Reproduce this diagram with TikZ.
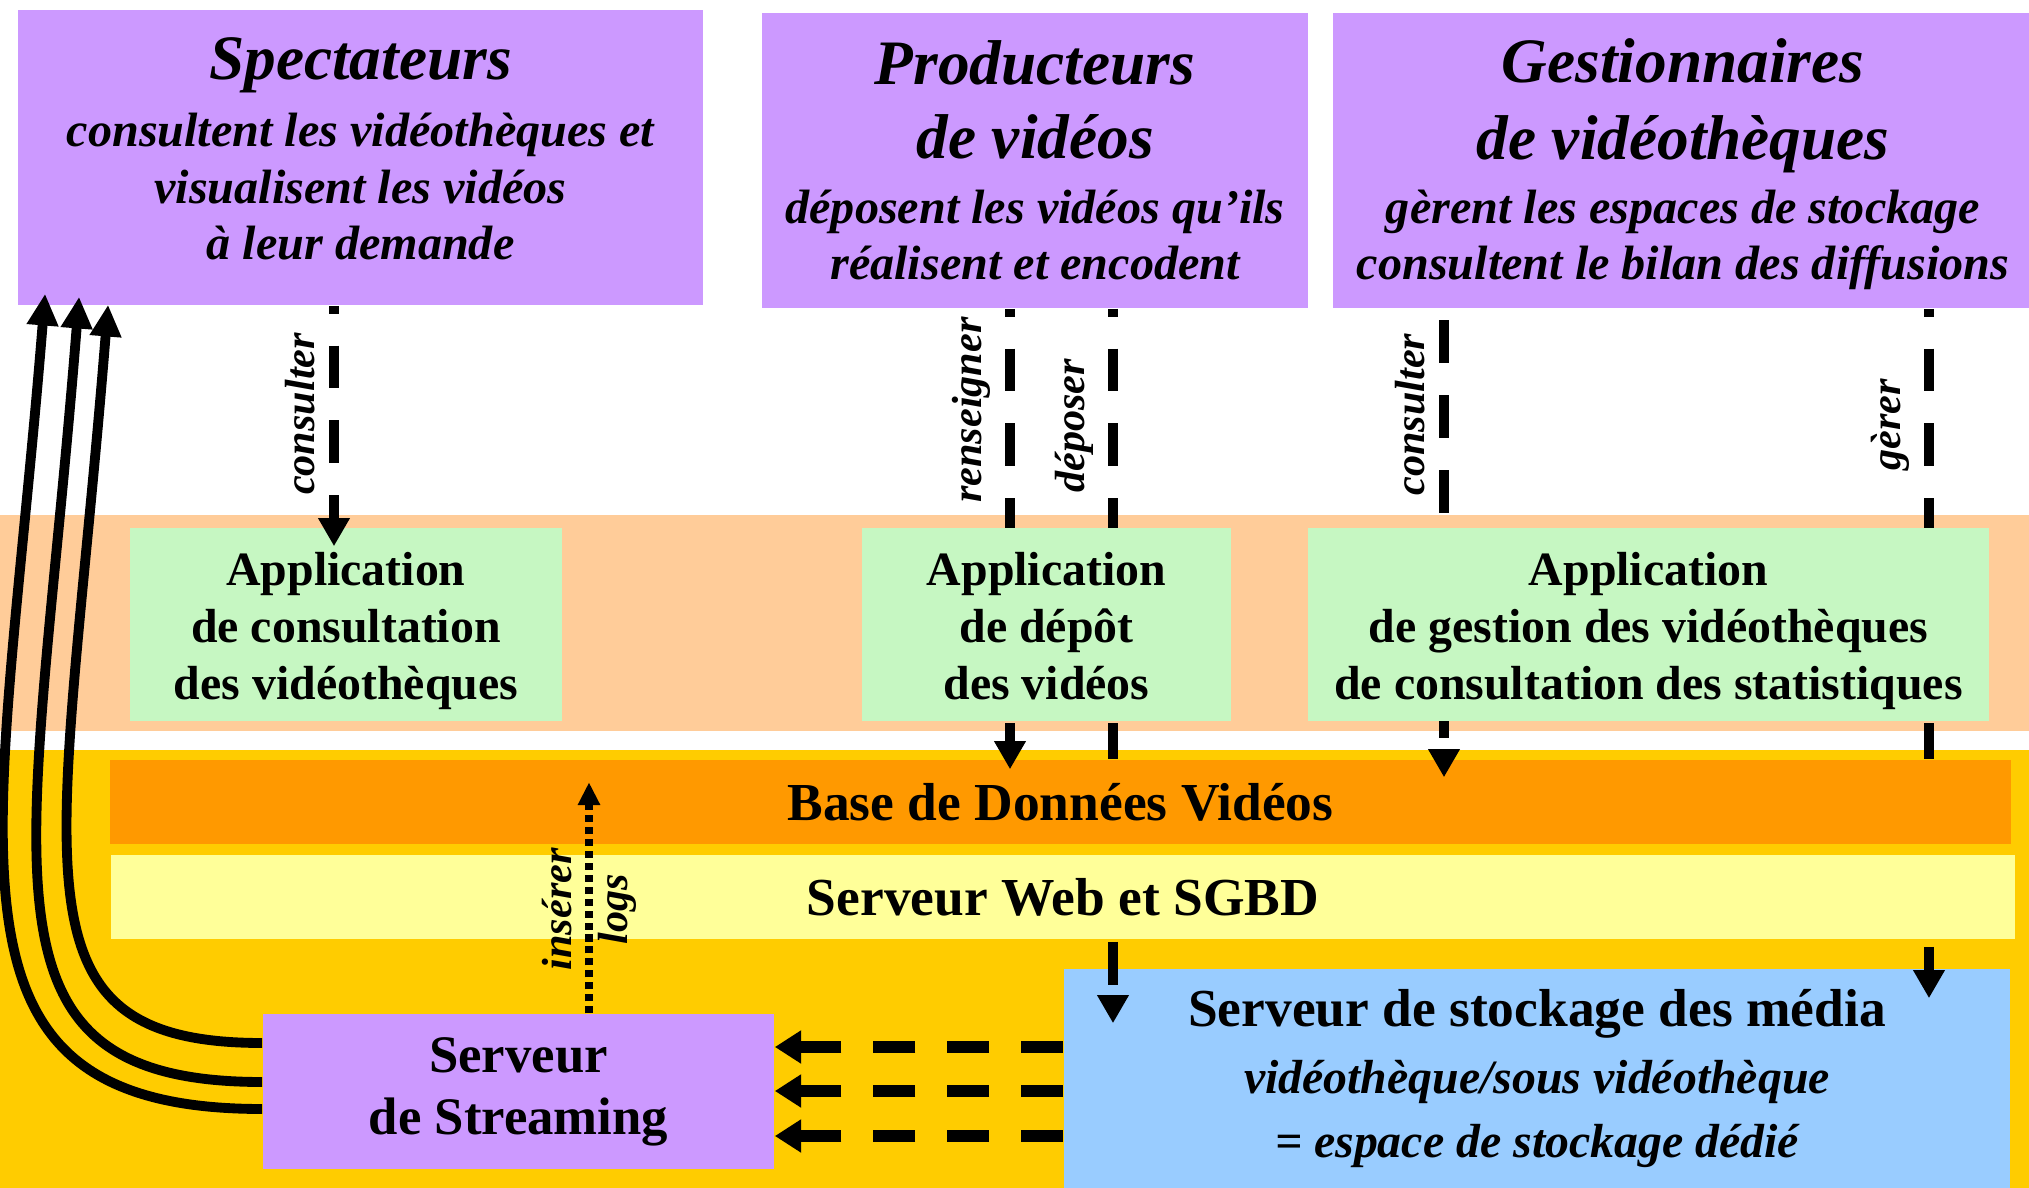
\documentclass[tikz,border=0pt]{standalone}
\usepackage{fontspec}
\setmainfont{Liberation Serif}
\usetikzlibrary{arrows.meta}

\definecolor{mauve}{HTML}{CC99FF}
\definecolor{vertpale}{HTML}{C6F7C2}
\definecolor{peche}{HTML}{FFCC99}
\definecolor{ocre}{HTML}{FFCC00}
\definecolor{orangebdd}{HTML}{FF9900}
\definecolor{jaunepale}{HTML}{FFFF99}
\definecolor{bleuciel}{HTML}{99CCFF}

\newcommand\titre{\fontsize{18}{21}\selectfont\bfseries\itshape}
\newcommand\soustitre{\fontsize{13.7}{16}\selectfont\bfseries\itshape}
\newcommand\appfont{\fontsize{13.6}{16.2}\selectfont\bfseries}
\newcommand\barrefont{\fontsize{15.2}{18}\selectfont\bfseries}
\newcommand\mediasous{\fontsize{13.6}{16.5}\selectfont\bfseries\itshape}
\newcommand\etiqfont{\fontsize{12}{16}\selectfont\bfseries\itshape}

\pgfdeclarelayer{fond}
\pgfdeclarelayer{traits}
\pgfsetlayers{fond,traits,main}

\begin{document}
\begin{tikzpicture}[x=0.01cm, y=-0.01cm,
  acteur/.style={rectangle, fill=mauve, align=center, inner sep=0pt, font=\soustitre, minimum height=2.95cm},
  appli/.style={rectangle, fill=vertpale, align=center, inner sep=0pt, font=\appfont, minimum height=1.93cm},
  barre/.style={rectangle, align=center, inner sep=0pt, font=\barrefont, minimum height=0.84cm},
  flux/.style={line width=2.85pt, dash pattern=on 12.2pt off 9.1pt, dash phase=10pt, -{Triangle[length=8pt,width=8.5pt]}},
  trait/.style={line width=2.85pt, dash pattern=on 12.2pt off 9.1pt, dash phase=10pt},
  retour/.style={line width=3.3pt, dash pattern=on 12pt off 9pt, -{Triangle[length=7.5pt,width=9pt]}},
  pointille/.style={line width=2.3pt, dash pattern=on 2pt off 1.4pt, -{Triangle[length=6.5pt,width=6pt]}},
  diffusion/.style={line width=2.8pt, -{Triangle[length=9pt,width=8.5pt]}},
  etiq/.style={rotate=90, font=\etiqfont, inner sep=4pt, anchor=south}]
\useasboundingbox (0,0) rectangle (2029,1188);

\begin{pgfonlayer}{fond}
\fill [peche] (0,515) rectangle (2029,731);
\fill [ocre] (0,750) rectangle (2029,1188);
\node [barre, fill=orangebdd, minimum width=18.99cm] (bdd) at (1060.5,802) {Base de Données Vidéos};
\node [barre, fill=jaunepale, minimum width=19.02cm] (web) at (1063,897) {Serveur Web et SGBD};
\end{pgfonlayer}

\node [acteur, minimum width=6.85cm] (spect) at (360.5,157.5) {{\titre Spectateurs}\\[3pt] consultent les vidéothèques et\\ visualisent les vidéos\\ à leur demande\rule[-5pt]{0pt}{0pt}};
\node [acteur, minimum width=5.46cm] (prod) at (1035,160.5) {{\titre Producteurs}\\[5pt] {\titre de vidéos}\\[2.5pt] déposent les vidéos qu’ils\\ réalisent et encodent};
\node [acteur, minimum width=7cm] (gest) at (1683,160.5) {{\titre\rule{0pt}{14.6pt}Gestionnaires}\\[6pt] {\titre de vidéothèques}\\[2pt] gèrent les espaces de stockage\\ consultent le bilan des diffusions};

\node [appli, minimum width=4.32cm] (capp) at (346,624.5) {\rule{0pt}{15pt}Application\\ de consultation\\ des vidéothèques\strut};
\node [appli, minimum width=3.69cm] (dapp) at (1046.5,624.5) {\rule{0pt}{15pt}Application\\ de dépôt\\ des vidéos\strut};
\node [appli, minimum width=6.81cm] (gapp) at (1648.5,624.5) {\rule{0pt}{15pt}Application\\ de gestion des vidéothèques\\ de consultation des statistiques\strut};

\node [barre, fill=bleuciel, minimum width=9.46cm, minimum height=2.19cm] (media) at (1537,1078.5) {Serveur de stockage des média\\[1pt] {\mediasous vidéothèque/sous vidéothèque}\\ {\mediasous = espace de stockage dédié}};
\node [barre, fill=mauve, minimum width=5.11cm, minimum height=1.55cm, font=\fontsize{15}{17.6}\selectfont\bfseries] (stream) at (518.5,1091.5) {Serveur\\ de Streaming};

\path (capp.north) ++(-12,19) coordinate (fincons);
\path (bdd.north -| 1010,0) ++(0,10) coordinate (finrens);
\path (bdd.north -| 1444,0) ++(0,18) coordinate (fingest);
\path (media.north -| 1113,0) ++(0,55) coordinate (findep);
\path (media.north -| 1929,0) ++(0,30) coordinate (finger);
\path (bdd.north -| 589,0) ++(0,23) coordinate (finlogs);

\begin{pgfonlayer}{traits}
\draw [flux] (prod.south -| finrens) -- (finrens) node [etiq, pos=.22] {renseigner};
\draw [trait] (prod.south -| findep) -- (bdd.north -| findep) node [etiq, pos=.26] {déposer};
\draw [flux, dash phase=18pt] (gest.south -| fingest) -- (fingest) node [etiq, pos=.226] {consulter};
\draw [trait] (gest.south -| finger) -- (bdd.north -| finger) node [etiq, pos=.257] {gèrer};
\end{pgfonlayer}

\draw [flux] (spect.south -| fincons) -- (fincons) node [etiq, pos=.45] {consulter};
\draw [flux, dash phase=0pt] ([yshift=-0.6pt]web.south -| findep) -- (findep);
\draw [flux, dash phase=0pt] ([yshift=-2pt]web.south -| finger) -- (finger);
\draw [pointille] (stream.north -| finlogs) -- (finlogs) node [etiq, pos=.45, anchor=center, align=center, inner sep=0pt] {insérer\\ logs};

\draw [retour] (media.west |- 0,1047) -- (stream.east |- 0,1047);
\draw [retour] (media.west |- 0,1091) -- (stream.east |- 0,1091);
\draw [retour] (media.west |- 0,1136) -- (stream.east |- 0,1136);

\draw [diffusion] (stream.west |- 0,1043) .. controls +(-263,0) and +(-45,560) .. ([shift={(91,-1)}]spect.south west);
\draw [diffusion] (stream.west |- 0,1082) .. controls +(-303,0) and +(-45,570) .. ([shift={(62,-9)}]spect.south west);
\draw [diffusion] (stream.west |- 0,1109) .. controls +(-343,0) and +(-45,560) .. ([shift={(28,-12)}]spect.south west);

\end{tikzpicture}
\end{document}
